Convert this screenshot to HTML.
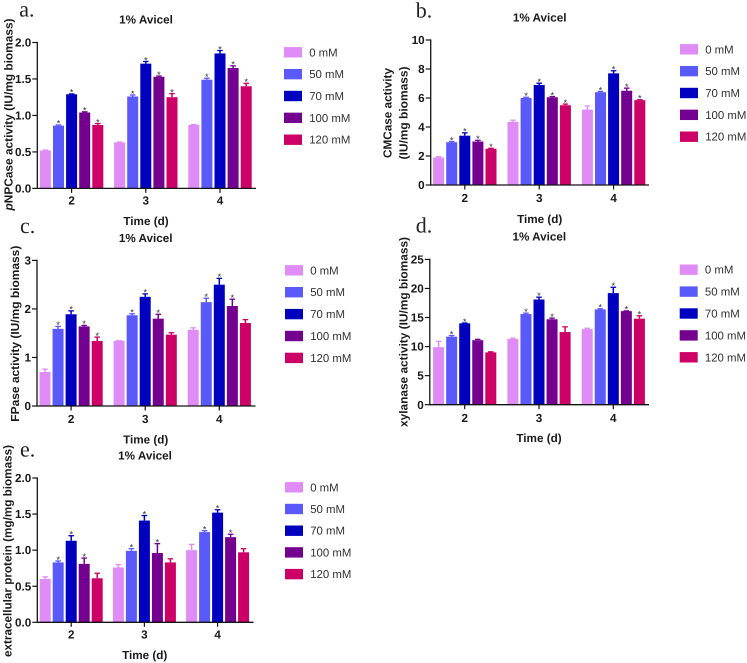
<!DOCTYPE html>
<html lang="en">
<head>
<meta charset="utf-8">
<title>1% Avicel enzyme activity panels</title>
<style>
  html, body { margin: 0; padding: 0; background: #fff; }
  body { width: 747px; height: 663px; overflow: hidden; }
  svg { display: block; filter: blur(0.35px); text-rendering: geometricPrecision; }
  text { font-family: "Liberation Sans", Arial, sans-serif; fill: #1a1a1a; }
  .bold { font-weight: 700; font-size: 11.7px; }
  .letter { font-family: "Liberation Serif", "Times New Roman", serif; font-size: 22px; fill: #222; }
  .legend-text { font-size: 11.4px; fill: #333; }
  .star { font-size: 9.5px; fill: #333; }
</style>
</head>
<body>
<svg id="figure" xmlns="http://www.w3.org/2000/svg" width="747" height="663" viewBox="0 0 747 663">
  <rect x="0" y="0" width="747" height="663" fill="#ffffff"/>

  <text class="letter" x="19.3" y="16.7">a.</text>
  <text class="letter" x="415.7" y="17.3">b.</text>
  <text class="letter" x="20" y="233">c.</text>
  <text class="letter" x="415.7" y="232.7">d.</text>
  <text class="letter" x="20" y="456.7">e.</text>

  <text class="bold" text-anchor="middle" dy=".35em" x="146" y="19.3">1% Avicel</text>
  <text class="bold" text-anchor="middle" dy=".35em" x="539.7" y="17.3">1% Avicel</text>
  <text class="bold" text-anchor="middle" dy=".35em" x="145.7" y="237.7">1% Avicel</text>
  <text class="bold" text-anchor="middle" dy=".35em" x="539.3" y="236.3">1% Avicel</text>
  <text class="bold" text-anchor="middle" dy=".35em" x="145" y="455.3">1% Avicel</text>

  <text class="bold" text-anchor="middle" dy=".35em" x="146" y="220.7">Time (d)</text>
  <text class="bold" text-anchor="middle" dy=".35em" x="539.7" y="219">Time (d)</text>
  <text class="bold" text-anchor="middle" dy=".35em" x="145.7" y="439.3">Time (d)</text>
  <text class="bold" text-anchor="middle" dy=".35em" x="539" y="437.7">Time (d)</text>
  <text class="bold" text-anchor="middle" dy=".35em" x="144.7" y="655">Time (d)</text>

  <text class="bold" text-anchor="middle" dy=".35em" textLength="192" lengthAdjust="spacingAndGlyphs" transform="translate(8.3 114.5) rotate(-90)"><tspan font-style="italic">p</tspan>NPCase activity (IU/mg biomass)</text>
  <text class="bold" text-anchor="middle" dy=".35em" textLength="90" lengthAdjust="spacingAndGlyphs" transform="translate(387.3 113) rotate(-90)">CMCase activity</text>
  <text class="bold" text-anchor="middle" dy=".35em" textLength="93" lengthAdjust="spacingAndGlyphs" transform="translate(403.3 113) rotate(-90)">(IU/mg biomass)</text>
  <text class="bold" text-anchor="middle" dy=".35em" textLength="176" lengthAdjust="spacingAndGlyphs" transform="translate(14.7 333.7) rotate(-90)">FPase activity (IU/mg biomass)</text>
  <text class="bold" text-anchor="middle" dy=".35em" textLength="190" lengthAdjust="spacingAndGlyphs" transform="translate(403.3 332) rotate(-90)">xylanase activity (IU/mg biomass)</text>
  <text class="bold" text-anchor="middle" dy=".35em" textLength="212" lengthAdjust="spacingAndGlyphs" transform="translate(7.5 551) rotate(-90)">extracellular protein (mg/mg biomass)</text>
</svg>

<script>
// ---- shared categories ----
const categories = ['2', '3', '4'];
const seriesLabels = ['0 mM', '50 mM', '70 mM', '100 mM', '120 mM'];
const seriesColors = ['#df8cf6', '#5a5afb', '#0000bf', '#74008f', '#cc0066'];

// ---- panel a: pNPCase ----
const aTicks = ['0.0', '0.5', '1.0', '1.5', '2.0'];
const aValues0 = [0.52, 0.63, 0.87];
const aValues50 = [0.86, 1.26, 1.49];
const aValues70 = [1.29, 1.71, 1.85];
const aValues100 = [1.04, 1.53, 1.65];
const aValues120 = [0.87, 1.25, 1.40];
const aErrors0 = [0.005, 0.005, 0.005];
const aErrors50 = [0.01, 0.02, 0.02];
const aErrors70 = [0.005, 0.03, 0.04];
const aErrors100 = [0.01, 0.01, 0.03];
const aErrors120 = [0.02, 0.05, 0.04];
const aStars0 = [0, 0, 0];
const aStars50 = [1, 1, 1];
const aStars70 = [1, 1, 1];
const aStars100 = [1, 1, 1];
const aStars120 = [1, 1, 1];

// ---- panel b: CMCase ----
const bTicks = ['0', '2', '4', '6', '8', '10'];
const bValues0 = [1.9, 4.35, 5.2];
const bValues50 = [2.95, 6.0, 6.4];
const bValues70 = [3.4, 6.9, 7.7];
const bValues100 = [3.0, 6.05, 6.5];
const bValues120 = [2.5, 5.5, 5.85];
const bErrors0 = [0.05, 0.12, 0.25];
const bErrors50 = [0.05, 0.05, 0.05];
const bErrors70 = [0.2, 0.12, 0.18];
const bErrors100 = [0.08, 0.05, 0.18];
const bErrors120 = [0.03, 0.08, 0.03];
const bStars0 = [0, 0, 0];
const bStars50 = [1, 1, 1];
const bStars70 = [1, 1, 1];
const bStars100 = [1, 1, 1];
const bStars120 = [1, 1, 1];

// ---- panel c: FPase ----
const cTicks = ['0', '1', '2', '3'];
const cValues0 = [0.7, 1.34, 1.57];
const cValues50 = [1.59, 1.87, 2.14];
const cValues70 = [1.89, 2.25, 2.5];
const cValues100 = [1.64, 1.8, 2.06];
const cValues120 = [1.34, 1.47, 1.71];
const cErrors0 = [0.06, 0.005, 0.04];
const cErrors50 = [0.05, 0.03, 0.08];
const cErrors70 = [0.07, 0.06, 0.13];
const cErrors100 = [0.02, 0.09, 0.14];
const cErrors120 = [0.08, 0.04, 0.07];
const cStars0 = [0, 0, 0];
const cStars50 = [1, 1, 1];
const cStars70 = [1, 1, 1];
const cStars100 = [1, 1, 1];
const cStars120 = [1, 0, 0];

// ---- panel d: xylanase ----
const dTicks = ['0', '5', '10', '15', '20', '25'];
const dValues0 = [9.9, 11.3, 13.0];
const dValues50 = [11.7, 15.6, 16.4];
const dValues70 = [14.0, 18.1, 19.2];
const dValues100 = [11.1, 14.7, 16.1];
const dValues120 = [9.0, 12.5, 14.8];
const dErrors0 = [1.0, 0.15, 0.15];
const dErrors50 = [0.2, 0.15, 0.1];
const dErrors70 = [0.05, 0.4, 1.0];
const dErrors100 = [0.15, 0.2, 0.05];
const dErrors120 = [0.1, 0.9, 0.5];
const dStars0 = [0, 0, 0];
const dStars50 = [1, 1, 1];
const dStars70 = [1, 1, 1];
const dStars100 = [0, 1, 1];
const dStars120 = [0, 0, 1];

// ---- panel e: extracellular protein ----
const eTicks = ['0.0', '0.5', '1.0', '1.5', '2.0'];
const eValues0 = [0.6, 0.76, 1.0];
const eValues50 = [0.83, 0.99, 1.25];
const eValues70 = [1.13, 1.41, 1.52];
const eValues100 = [0.81, 0.96, 1.18];
const eValues120 = [0.61, 0.83, 0.97];
const eErrors0 = [0.03, 0.04, 0.08];
const eErrors50 = [0.02, 0.03, 0.02];
const eErrors70 = [0.07, 0.07, 0.04];
const eErrors100 = [0.08, 0.13, 0.04];
const eErrors120 = [0.07, 0.05, 0.05];
const eStars0 = [0, 0, 0];
const eStars50 = [1, 1, 1];
const eStars70 = [1, 1, 1];
const eStars100 = [1, 1, 1];
const eStars120 = [0, 0, 0];

const SVG_NS = 'http://www.w3.org/2000/svg';
const figure = document.getElementById('figure');

function shape(tag, attrs, parent) {
  const el = document.createElementNS(SVG_NS, tag);
  for (const k in attrs) el.setAttribute(k, attrs[k]);
  parent.appendChild(el);
  return el;
}

function drawPanel(id, layout, ticks, values, errors, stars) {
  const group = shape('g', {}, figure);
  
  

  const tickValues = ticks.map(Number);
  const yMax = Math.max(...tickValues);
  const yScale = v => layout.yBase - (v / yMax) * (layout.yBase - layout.yTop);
  const groupX = i => layout.firstCenter + i * layout.groupGap;
  const barX = (i, s) => groupX(i) + (s - 2) * layout.barStep - layout.barWidth / 2;
  const axisColor = '#141414';

  values.forEach((series, s) => {
    series.forEach((value, i) => {
      const x = barX(i, s);
      const mid = x + layout.barWidth / 2;
      const top = yScale(value);
      const errTop = yScale(value + errors[s][i]);

      const bar = shape('rect', { x: x, y: top, width: layout.barWidth, height: layout.yBase - top, fill: seriesColors[s] }, group);
      
      

      const stem = shape('line', { x1: mid, x2: mid, y1: top, y2: errTop, stroke: seriesColors[s], 'stroke-width': 1.5 }, group);
      
      

      const cap = shape('line', { x1: mid - 2.8, x2: mid + 2.8, y1: errTop, y2: errTop, stroke: seriesColors[s], 'stroke-width': 1.3 }, group);
      
      

      if (stars[s][i]) {
        const star = shape('text', { x: mid, y: errTop + 1.8, 'text-anchor': 'middle', class: 'star' }, group);
        
        
        star.textContent = '*';
      }
    });
  });

  const yAxis = shape('line', { x1: layout.axisX, x2: layout.axisX, y1: layout.yTop - 0.6, y2: layout.yBase + 0.6, stroke: axisColor, 'stroke-width': 1.3 }, group);
  
  

  const xAxis = shape('line', { x1: layout.axisX, x2: layout.xEnd, y1: layout.yBase, y2: layout.yBase, stroke: axisColor, 'stroke-width': 1.3 }, group);
  
  

  ticks.forEach((label, t) => {
    const y = yScale(tickValues[t]);
    const mark = shape('line', { x1: layout.axisX - 5, x2: layout.axisX, y1: y, y2: y, stroke: axisColor, 'stroke-width': 1.2 }, group);
    
    
    const text = shape('text', { x: layout.axisX - 6, y: y, dy: '.35em', 'text-anchor': 'end', class: 'bold' }, group);
    
    
    text.textContent = label;
  });

  categories.forEach((label, i) => {
    const x = groupX(i);
    const mark = shape('line', { x1: x, x2: x, y1: layout.yBase, y2: layout.yBase + 4.5, stroke: axisColor, 'stroke-width': 1.2 }, group);
    
    
    const text = shape('text', { x: x, y: layout.yBase + layout.xLabelGap, dy: '.35em', 'text-anchor': 'middle', class: 'bold' }, group);
    
    
    text.textContent = label;
  });

  seriesLabels.forEach((label, s) => {
    const cy = layout.legendTop + s * layout.legendGap;
    const entry = shape('g', {}, group);
    
    
    const swatch = shape('rect', { x: layout.legendX, y: cy - 5.2, width: 18, height: 10.4, fill: seriesColors[s] }, entry);
    
    
    const text = shape('text', { x: layout.legendX + 25.2, y: cy, dy: '.35em', class: 'legend-text' }, entry);
    
    
    text.textContent = label;
  });
}

drawPanel('a',
  { axisX: 37.3, xEnd: 256, yTop: 42.5, yBase: 188.4, firstCenter: 71.6, groupGap: 74.2, barStep: 13.1, barWidth: 11, xLabelGap: 11.8, legendX: 284, legendTop: 52.3, legendGap: 21.85 },
  aTicks,
  [aValues0, aValues50, aValues70, aValues100, aValues120],
  [aErrors0, aErrors50, aErrors70, aErrors100, aErrors120],
  [aStars0, aStars50, aStars70, aStars100, aStars120]);

drawPanel('b',
  { axisX: 430.7, xEnd: 649, yTop: 40, yBase: 185, firstCenter: 464.8, groupGap: 74.4, barStep: 13.1, barWidth: 11, xLabelGap: 13, legendX: 680, legendTop: 49.3, legendGap: 21.85 },
  bTicks,
  [bValues0, bValues50, bValues70, bValues100, bValues120],
  [bErrors0, bErrors50, bErrors70, bErrors100, bErrors120],
  [bStars0, bStars50, bStars70, bStars100, bStars120]);

drawPanel('c',
  { axisX: 37, xEnd: 255.5, yTop: 260.4, yBase: 406, firstCenter: 71.1, groupGap: 74.1, barStep: 13.05, barWidth: 11, xLabelGap: 12.7, legendX: 285, legendTop: 270.3, legendGap: 21.9 },
  cTicks,
  [cValues0, cValues50, cValues70, cValues100, cValues120],
  [cErrors0, cErrors50, cErrors70, cErrors100, cErrors120],
  [cStars0, cStars50, cStars70, cStars100, cStars120]);

drawPanel('d',
  { axisX: 429.8, xEnd: 649, yTop: 259.4, yBase: 404.7, firstCenter: 464.7, groupGap: 74.3, barStep: 13.05, barWidth: 11, xLabelGap: 13, legendX: 679.7, legendTop: 269.7, legendGap: 21.9 },
  dTicks,
  [dValues0, dValues50, dValues70, dValues100, dValues120],
  [dErrors0, dErrors50, dErrors70, dErrors100, dErrors120],
  [dStars0, dStars50, dStars70, dStars100, dStars120]);

drawPanel('e',
  { axisX: 37.3, xEnd: 253.5, yTop: 478, yBase: 622.3, firstCenter: 71.2, groupGap: 73.2, barStep: 13, barWidth: 11, xLabelGap: 12, legendX: 285, legendTop: 487.3, legendGap: 21.7 },
  eTicks,
  [eValues0, eValues50, eValues70, eValues100, eValues120],
  [eErrors0, eErrors50, eErrors70, eErrors100, eErrors120],
  [eStars0, eStars50, eStars70, eStars100, eStars120]);
</script>
</body>
</html>
